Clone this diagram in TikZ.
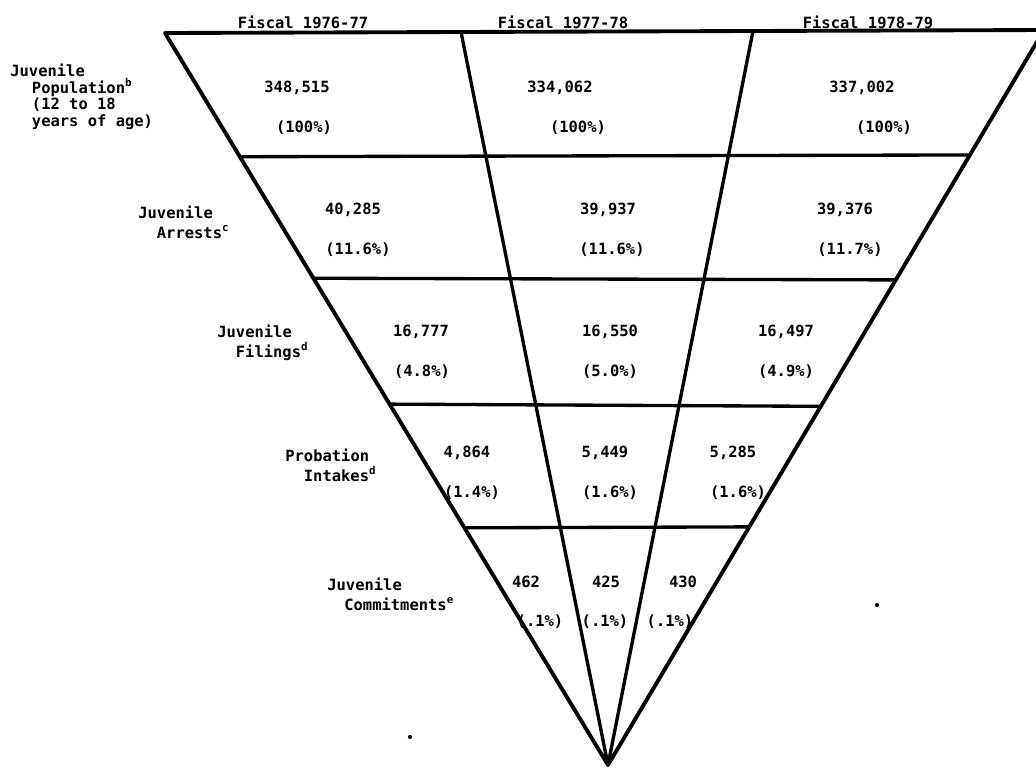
\documentclass[tikz,border=0pt]{standalone}
\usepackage{fontspec}
\setmonofont{DejaVu Sans Mono}
\usetikzlibrary{calc}
\newcommand{\cellfont}{\ttfamily\bfseries\fontsize{8.8}{10}\selectfont}
\tikzstyle{cell} = [font=\cellfont, inner sep=0pt]
\tikzstyle{stage} = [font=\ttfamily\bfseries\fontsize{8.8}{11.3}\selectfont, inner sep=0pt, align=left, anchor=west]
\tikzstyle{edge} = [draw, line width=2.2pt, line join=round]
\tikzstyle{rule} = [draw, line width=1.9pt]

\begin{document}
\begin{tikzpicture}[x=0.02cm,y=-0.02cm]
  \useasboundingbox (0,0) rectangle (1036,769);
  \clip (0,0) rectangle (1036,769);

  % funnel
  \coordinate (tl) at (165,33);
  \coordinate (tr) at (1044,30);
  \coordinate (apex) at (608,765);
  \coordinate (t1) at (461,32);
  \coordinate (t2) at (753,31);
  \coordinate (l1) at ($(tl)!0.169!(apex)$);
  \coordinate (l2) at ($(tl)!0.335!(apex)$);
  \coordinate (l3) at ($(tl)!0.507!(apex)$);
  \coordinate (l4) at ($(tl)!0.676!(apex)$);
  \coordinate (r1) at ($(tr)!0.170!(apex)$);
  \coordinate (r2) at ($(tr)!0.340!(apex)$);
  \coordinate (r3) at ($(tr)!0.512!(apex)$);
  \coordinate (r4) at ($(tr)!0.676!(apex)$);

  \draw[rule] (t1) -- (apex);
  \draw[rule] (t2) -- (apex);
  \draw[rule] (l1) -- (r1);
  \draw[rule] (l2) -- (r2);
  \draw[rule] (l3) -- (r3);
  \draw[rule] (l4) -- (r4);
  \draw[edge] (tl) -- (tr) -- (apex) -- cycle;

  % column heads
  \node[cell] (fy1) at (303,22) {Fiscal 1976-77};
  \node[cell] (fy2) at (563,22) {Fiscal 1977-78};
  \node[cell] (fy3) at (868,22) {Fiscal 1978-79};

  % stages
  \node[stage, font=\ttfamily\bfseries\fontsize{8.8}{9.4}\selectfont] (pop) at (10,97)
    {Juvenile\\\hspace*{1.4em}Population\textsuperscript{b}\\\hspace*{1.4em}(12 to 18\\\hspace*{1.4em}years of age)};
  \node[stage] (arr) at (138,222) {Juvenile\\\hspace*{1.2em}Arrests\textsuperscript{c}};
  \node[stage] (fil) at (217,343) {Juvenile\\\hspace*{1.2em}Filings\textsuperscript{d}};
  \node[stage] (pro) at (285,465) {Probation\\\hspace*{1.2em}Intakes\textsuperscript{d}};
  \node[stage] (com) at (327,594) {Juvenile\\\hspace*{1.1em}Commitments\textsuperscript{e}};

  % population
  \node[cell] (n11) at (297,88) {348,515};
  \node[cell] (p11) at (304,128) {(100\%)};
  \node[cell] (n12) at (560,88) {334,062};
  \node[cell] (p12) at (578,128) {(100\%)};
  \node[cell] (n13) at (862,88) {337,002};
  \node[cell] (p13) at (884,128) {(100\%)};

  % arrests
  \node[cell] (n21) at (353,210) {40,285};
  \node[cell] (p21) at (358,250) {(11.6\%)};
  \node[cell] (n22) at (608,210) {39,937};
  \node[cell] (p22) at (612,250) {(11.6\%)};
  \node[cell] (n23) at (845,210) {39,376};
  \node[cell] (p23) at (850,250) {(11.7\%)};

  % filings
  \node[cell] (n31) at (421,332) {16,777};
  \node[cell] (p31) at (422,372) {(4.8\%)};
  \node[cell] (n32) at (610,332) {16,550};
  \node[cell] (p32) at (610,372) {(5.0\%)};
  \node[cell] (n33) at (786,332) {16,497};
  \node[cell] (p33) at (786,372) {(4.9\%)};

  % intakes
  \node[cell] (n41) at (467,453) {4,864};
  \node[cell] (p41) at (472,493) {(1.4\%)};
  \node[cell] (n42) at (605,453) {5,449};
  \node[cell] (p42) at (610,493) {(1.6\%)};
  \node[cell] (n43) at (733,453) {5,285};
  \node[cell] (p43) at (738,493) {(1.6\%)};

  % commitments
  \node[cell] (n51) at (526,582) {462};
  \node[cell] (p51) at (540,622) {(.1\%)};
  \node[cell] (n52) at (606,582) {425};
  \node[cell] (p52) at (605,622) {(.1\%)};
  \node[cell] (n53) at (683,582) {430};
  \node[cell] (p53) at (670,622) {(.1\%)};

  % specks
  \fill (410,737) circle (1.2pt);
  \fill (877,605) circle (1.2pt);
\end{tikzpicture}
\end{document}
